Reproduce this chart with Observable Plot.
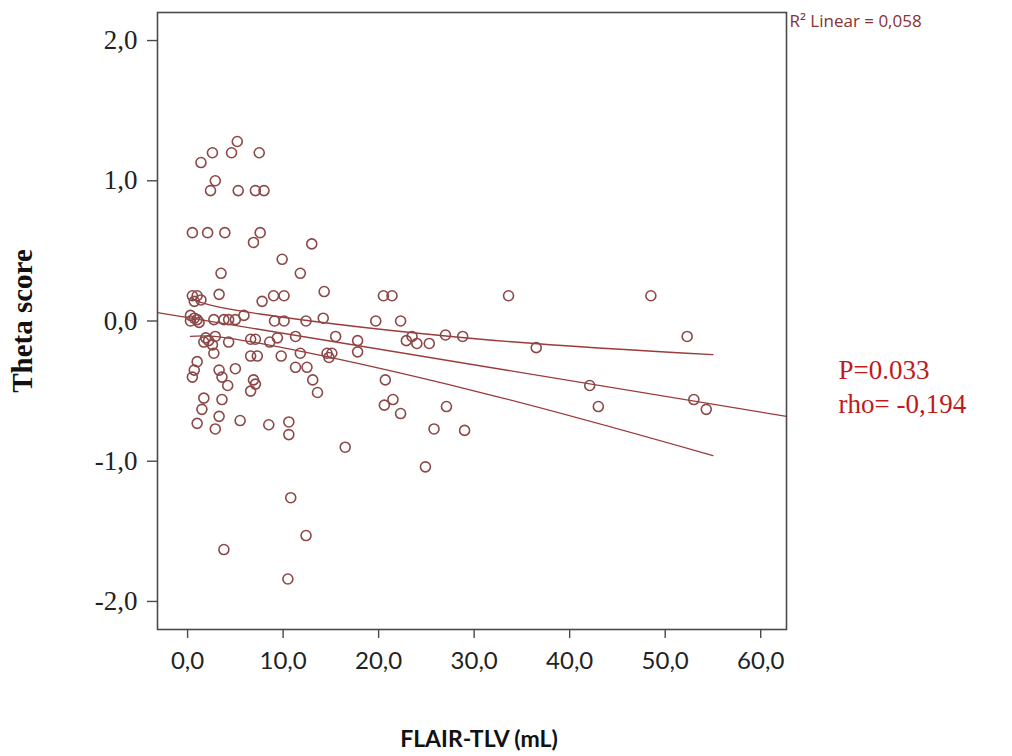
<!DOCTYPE html>
<html>
<head>
<meta charset="utf-8">
<script src="https://cdn.jsdelivr.net/npm/d3@7"></script>
<script src="https://cdn.jsdelivr.net/npm/@observablehq/plot@0.6"></script>
<style>
  html, body { margin: 0; padding: 0; background: #fff; }
  #chart svg { display: block; }
</style>
</head>
<body>
<div id="chart"></div>
<script>
// FLAIR-TLV (mL) values of each subject
const flairTLV = [
  5.2, 2.6, 4.6, 7.5, 1.4, 2.9, 2.4, 5.3, 7.1, 8.0,
  0.5, 2.1, 3.9, 7.6, 6.9, 13.0, 9.9, 3.5, 11.8, 14.3,
  0.5, 1.0, 0.7, 1.4, 3.3, 7.8, 9.0, 10.1, 20.5, 21.4, 33.6, 48.5,
  0.3, 0.7, 1.0, 0.3, 1.2, 2.75, 3.8, 4.3, 5.0, 5.9, 9.1, 10.1, 12.4, 14.2, 19.7, 22.3,
  1.9, 1.7, 2.2, 2.6, 2.9, 4.3, 6.6, 7.1, 8.6, 9.4, 11.3, 15.5, 17.8, 23.5, 22.9, 24.0, 25.3, 27.0, 28.8, 36.5, 52.3,
  2.75, 6.6, 7.3, 9.8, 1.0, 17.8, 11.8, 14.6, 15.1, 14.8,
  0.7, 0.5, 3.3, 5.0, 3.6, 4.2, 6.9, 7.1, 6.6, 11.3, 12.5, 13.1, 13.6, 20.7, 42.1,
  1.7, 1.5, 3.6, 21.5, 20.6, 22.3, 27.1, 43.0, 53.0, 54.3,
  1.0, 3.3, 2.9, 5.5, 8.5, 10.6, 10.6, 25.8, 29.0,
  16.5, 24.9, 3.8, 10.8, 12.4, 10.5
];
// Theta score of each subject
const theta = [
  1.28, 1.20, 1.20, 1.20, 1.13, 1.00, 0.93, 0.93, 0.93, 0.93,
  0.63, 0.63, 0.63, 0.63, 0.56, 0.55, 0.44, 0.34, 0.34, 0.21,
  0.18, 0.18, 0.14, 0.15, 0.19, 0.14, 0.18, 0.18, 0.18, 0.18, 0.18, 0.18,
  0.04, 0.02, 0.01, 0.00, -0.01, 0.01, 0.01, 0.01, 0.01, 0.04, 0.00, 0.00, 0.00, 0.02, 0.00, 0.00,
  -0.12, -0.15, -0.14, -0.17, -0.11, -0.15, -0.13, -0.13, -0.15, -0.12, -0.11, -0.11, -0.14, -0.11, -0.14, -0.16, -0.16, -0.10, -0.11, -0.19, -0.11,
  -0.23, -0.25, -0.25, -0.25, -0.29, -0.22, -0.23, -0.23, -0.23, -0.26,
  -0.35, -0.40, -0.35, -0.34, -0.40, -0.46, -0.42, -0.45, -0.50, -0.33, -0.33, -0.42, -0.51, -0.42, -0.46,
  -0.55, -0.63, -0.56, -0.56, -0.60, -0.66, -0.61, -0.61, -0.56, -0.63,
  -0.73, -0.68, -0.77, -0.71, -0.74, -0.72, -0.81, -0.77, -0.78,
  -0.90, -1.04, -1.63, -1.26, -1.53, -1.84
];

// Linear fit line (read at the frame edges)
const fitX = [-3.15, 62.7];
const fitY = [0.06, -0.68];
// 95% confidence band of the mean
const upperX = [0.3, 7.6, 30.7, 55.0];
const upperY = [0.16, 0.05, -0.13, -0.24];
const lowerX = [0.3, 7.6, 30.7, 55.0];
const lowerY = [-0.11, -0.16, -0.51, -0.96];

const xTicks = [0, 10, 20, 30, 40, 50, 60];
const yTicks = [-2, -1, 0, 1, 2];
const xLabel = "FLAIR-TLV (mL)";
const yLabel = "Theta score";
const r2Label = "R\u00B2 Linear = 0,058";
const statLines = ["P=0.033", "rho= -0,194"];

const points = flairTLV.map((x, i) => ({x, y: theta[i]}));
const fit = fitX.map((x, i) => ({x, y: fitY[i]}));
const upper = upperX.map((x, i) => ({x, y: upperY[i]}));
const lower = lowerX.map((x, i) => ({x, y: lowerY[i]}));
const fmt = d => d.toFixed(1).replace(".", ",");

const lineColor = "#9a3a3a";
const dotColor = "#8c4848";
const frameColor = "#4a4a4a";

const chart = Plot.plot({
  width: 1012,
  height: 756,
  marginLeft: 157,
  marginRight: 226,
  marginTop: 12,
  marginBottom: 127,
  style: {background: "#fff", color: "#222"},
  x: {domain: [-3.15, 62.7]},
  y: {domain: [-2.2, 2.2]},
  marks: [
    Plot.line(fit, {x: "x", y: "y", stroke: lineColor, strokeWidth: 1.3}),
    Plot.line(upper, {x: "x", y: "y", stroke: lineColor, strokeWidth: 1.3, curve: "natural"}),
    Plot.line(lower, {x: "x", y: "y", stroke: lineColor, strokeWidth: 1.3, curve: "natural"}),
    Plot.dot(points, {x: "x", y: "y", r: 5, stroke: dotColor, strokeWidth: 1.6, fill: "none"}),
    Plot.frame({stroke: frameColor, strokeWidth: 1.6}),
    Plot.axisY({
      ticks: yTicks, tickFormat: fmt, tickSize: 10, tickPadding: 10,
      label: null, fontSize: 27, fontFamily: "Liberation Serif", stroke: frameColor, strokeWidth: 1.4
    }),
    Plot.axisX({
      ticks: xTicks, tickFormat: fmt, tickSize: 9, tickPadding: 13,
      label: null, fontSize: 24, fontFamily: "Lato", stroke: frameColor, strokeWidth: 1.4
    }),
    Plot.text([yLabel], {
      frameAnchor: "left", dx: -135, rotate: -90, textAnchor: "middle", fontSize: 29, fontWeight: "bold",
      fontFamily: "Liberation Serif", fill: "#111"
    }),
    Plot.text([xLabel], {
      frameAnchor: "bottom", dx: 7, dy: 117, textAnchor: "middle", fontSize: 23, fontWeight: "bold",
      fontFamily: "Lato", fill: "#111"
    }),
    Plot.text([r2Label], {
      frameAnchor: "top-right", dx: 3, dy: 2, textAnchor: "start", fontSize: 17,
      fontFamily: "Open Sans", fill: "#8a3030"
    }),
    Plot.text([statLines.join("\n")], {
      frameAnchor: "right", y: () => -0.46, dx: 52, textAnchor: "start", fontSize: 27,
      lineHeight: 1.25, fontFamily: "Liberation Serif", fill: "#c01a1a"
    })
  ]
});
document.getElementById("chart").appendChild(chart);
</script>
</body>
</html>
